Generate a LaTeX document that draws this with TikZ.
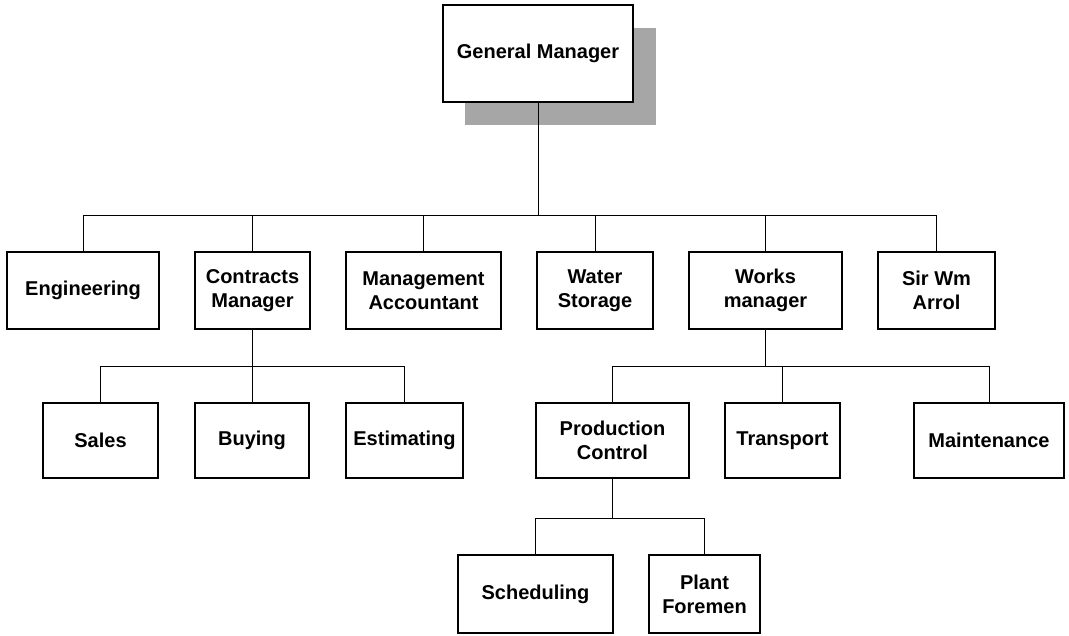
\documentclass[tikz,border=0pt]{standalone}
\usepackage{fontspec}
\setmainfont{Liberation Sans}
\begin{document}
\begin{tikzpicture}[x=1pt,y=-1pt,
  orgbox/.style={draw=black, line width=2.6pt, fill=white, align=center,
    inner sep=0pt, font=\fontsize{20}{24}\selectfont\bfseries},
  link/.style={draw=black, line width=1pt},
  shadowbox/.style={fill=black!35, draw=none}]
\useasboundingbox (0,0) rectangle (1069,635);

% drop shadow of the top box
\fill[shadowbox] (465,28) rectangle (656,125);

% top
\node[orgbox, minimum width=190pt, minimum height=97pt] (gm) at (538,53.5) {General Manager};

% first level
\node[orgbox, minimum width=152pt, minimum height=77pt] (eng) at (83,290.5) {Engineering};
\node[orgbox, minimum width=115pt, minimum height=77pt] (con) at (252.5,290.5) {Contracts\\Manager};
\node[orgbox, minimum width=155pt, minimum height=77pt] (mgt) at (423.5,290.5) {Management\\Accountant};
\node[orgbox, minimum width=116pt, minimum height=77pt] (wat) at (595,290.5) {Water\\Storage};
\node[orgbox, minimum width=153pt, minimum height=77pt] (wor) at (765.5,290.5) {Works\\manager};
\node[orgbox, minimum width=117pt, minimum height=77pt] (sir) at (936.5,290.5) {Sir Wm\\Arrol};

% second level
\node[orgbox, minimum width=115pt, minimum height=75pt] (sal) at (100.5,440.5) {Sales};
\node[orgbox, minimum width=114pt, minimum height=75pt] (buy) at (252,440.5) {Buying};
\node[orgbox, minimum width=117pt, minimum height=75pt] (est) at (404.5,440.5) {Estimating};
\node[orgbox, minimum width=153pt, minimum height=75pt] (pro) at (612.5,440.5) {Production\\Control};
\node[orgbox, minimum width=115pt, minimum height=75pt] (tra) at (782.5,440.5) {Transport};
\node[orgbox, minimum width=150pt, minimum height=75pt] (mai) at (989,440.5) {Maintenance};

% third level
\node[orgbox, minimum width=155pt, minimum height=78pt] (sch) at (535.5,594) {Scheduling};
\node[orgbox, minimum width=111pt, minimum height=78pt] (pla) at (704.5,594) {Plant\\Foremen};

% bus heights
\coordinate (busA) at (0,215);
\coordinate (busB) at (0,366);
\coordinate (busC) at (0,518);

% connectors: one bus per group, drawn end to end, then the drops
\draw[link] (eng.north) |- (busA -| sir.north) -- (sir.north);
\draw[link] (gm.south) -- (gm.south |- busA);
\foreach \c in {con,mgt,wat,wor}
  \draw[link] (\c.north) -- (\c.north |- busA);

\draw[link] (sal.north) |- (busB -| est.north) -- (est.north);
\draw[link] (con.south) -- (con.south |- busB);
\draw[link] (buy.north) -- (buy.north |- busB);

\draw[link] (pro.north) |- (busB -| mai.north) -- (mai.north);
\draw[link] (wor.south) -- (wor.south |- busB);
\draw[link] (tra.north) -- (tra.north |- busB);

\draw[link] (sch.north) |- (busC -| pla.north) -- (pla.north);
\draw[link] (pro.south) -- (pro.south |- busC);
\end{tikzpicture}
\end{document}
